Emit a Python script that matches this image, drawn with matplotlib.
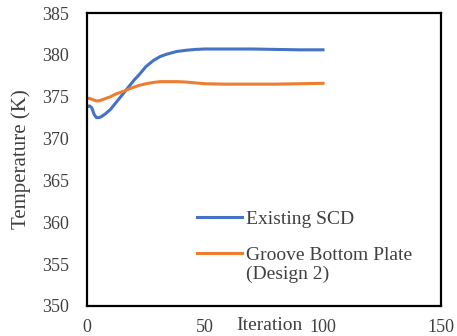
import matplotlib as mpl
import matplotlib.pyplot as plt

mpl.rcParams['font.family'] = 'Liberation Serif'

# iteration history of temperature
iters = [0, 1, 2, 3, 4, 5, 6, 8, 10, 12, 14, 16, 18, 20, 22, 25, 28, 31, 34,
         38, 42, 46, 50, 58, 65, 70, 80, 90, 100]
existing_scd = [373.8, 373.9, 373.7, 372.9, 372.5, 372.5, 372.6, 373.0, 373.5,
                374.2, 374.9, 375.6, 376.3, 377.0, 377.6, 378.6, 379.3, 379.8,
                380.1, 380.4, 380.55, 380.65, 380.7, 380.7, 380.7, 380.7,
                380.65, 380.6, 380.6]
groove_plate = [374.8, 374.8, 374.7, 374.6, 374.5, 374.5, 374.6, 374.8, 375.0,
                375.3, 375.5, 375.7, 375.95, 376.15, 376.35, 376.55, 376.7,
                376.8, 376.8, 376.8, 376.75, 376.65, 376.55, 376.5, 376.5,
                376.5, 376.5, 376.55, 376.6]

fig = plt.figure(figsize=(4.57, 3.36), dpi=100)
ax = fig.add_axes([87 / 457, 30 / 336, 354 / 457, 293 / 336])

ax.plot(iters, existing_scd, color='#4472C4', lw=2.2, label='Existing SCD')
ax.plot(iters, groove_plate, color='#ED7D31', lw=2.2,
        label='Groove Bottom Plate')

ax.set_xlim(0, 150)
ax.set_ylim(350, 385)
ax.set_xticks([0, 50, 100, 150])
ax.set_yticks(range(350, 386, 5))
ax.tick_params(length=0, labelsize=13, colors='#404040')
ax.tick_params(axis='x', pad=9)
ax.tick_params(axis='y', pad=13)
for s in ax.spines.values():
    s.set_linewidth(1.6)
    s.set_color('black')

ax.set_ylabel('Temperature (K)', fontsize=15, color='#404040', labelpad=8)
ax.text(0.514, -0.065, 'Iteration', transform=ax.transAxes, ha='center',
        va='center', fontsize=14, color='#404040')

ax.legend(loc='upper left', bbox_to_anchor=(0.311, 0.326), frameon=False,
          fontsize=14, handlelength=2.3, labelspacing=0.95, handletextpad=0.2,
          borderpad=0, borderaxespad=0, labelcolor='#404040')
ax.text(0.449, 0.108, '(Design 2)', transform=ax.transAxes, ha='left',
        va='center', fontsize=14, color='#404040')

plt.savefig('out.png', dpi=100)
